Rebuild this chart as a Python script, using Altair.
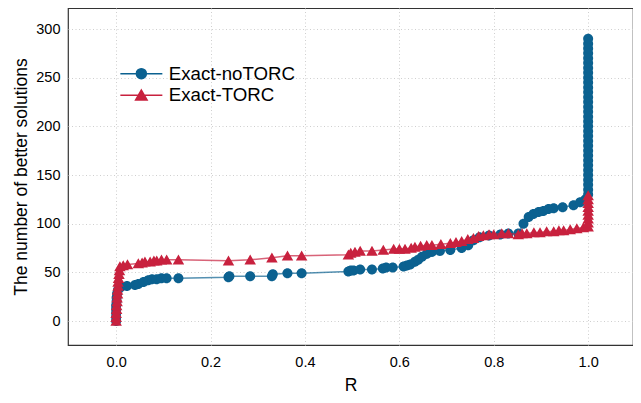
import altair as alt
import pandas as pd

series_names = ["Exact-noTORC", "Exact-TORC"]
series_colors = ["#0b6190", "#c8213e"]
x_ticks = [0.0, 0.2, 0.4, 0.6, 0.8, 1.0]
y_ticks = [0, 50, 100, 150, 200, 250, 300]

# Exact-noTORC (blue circles)
blue_r = [0.000, 0.000, 0.000, 0.000, 0.000, 0.001, 0.001, 0.002, 0.004, 0.010,
          0.023, 0.040, 0.047, 0.058, 0.068, 0.076, 0.086, 0.096, 0.107, 0.132,
          0.238, 0.240, 0.284, 0.330, 0.332, 0.363, 0.393, 0.492, 0.497, 0.503,
          0.517, 0.542, 0.565, 0.572, 0.586, 0.609, 0.616, 0.623, 0.633, 0.640,
          0.648, 0.658, 0.669, 0.686, 0.708, 0.732, 0.746, 0.757, 0.770, 0.790,
          0.814, 0.831, 0.852, 0.863, 0.874, 0.884, 0.895, 0.905, 0.916, 0.927,
          0.946, 0.969, 0.983, 0.994,
          1.0, 1.0, 1.0, 1.0, 1.0, 1.0, 1.0, 1.0, 1.0, 1.0,
          1.0, 1.0, 1.0, 1.0, 1.0, 1.0, 1.0, 1.0, 1.0, 1.0,
          1.0, 1.0, 1.0, 1.0, 1.0, 1.0, 1.0, 1.0, 1.0, 1.0,
          1.0, 1.0, 1.0]
blue_n = [0, 4, 8, 12, 16, 20, 24, 28, 32, 35,
          36, 37, 38, 40, 42, 43, 43, 44, 44, 44,
          45, 46, 46, 46, 48, 49, 49, 51, 52, 52,
          53, 53, 54, 55, 55, 56, 57, 58, 61, 63,
          66, 69, 71, 72, 73, 75, 78, 83, 86, 88,
          89, 90, 90, 100, 107, 110, 112, 113, 115, 116,
          117, 119, 122, 125,
          130, 135, 140, 145, 150, 155, 160, 165, 170, 175,
          180, 185, 190, 195, 200, 205, 210, 215, 220, 225,
          230, 235, 240, 245, 250, 255, 260, 265, 270, 275,
          280, 285, 290]

# Exact-TORC (red triangles)
red_r = [0.000, 0.000, 0.000, 0.001, 0.001, 0.002, 0.002, 0.003, 0.003, 0.004,
         0.004, 0.005, 0.006, 0.007, 0.008, 0.015, 0.024, 0.047, 0.055, 0.061,
         0.072, 0.080, 0.086, 0.096, 0.107, 0.132, 0.238, 0.284, 0.330, 0.363,
         0.393, 0.492, 0.497, 0.506, 0.517, 0.542, 0.566, 0.588, 0.600, 0.612,
         0.625, 0.633, 0.645, 0.658, 0.669, 0.688, 0.708, 0.720, 0.732, 0.745,
         0.757, 0.768, 0.778, 0.790, 0.800, 0.817, 0.831, 0.852, 0.860, 0.870,
         0.885, 0.898, 0.912, 0.927, 0.938, 0.948, 0.962, 0.976, 0.990,
         1.0, 1.0, 1.0, 1.0, 1.0, 1.0, 1.0, 1.0, 1.0]
red_n = [0, 4, 8, 12, 16, 20, 24, 28, 32, 36,
         40, 44, 48, 52, 56, 57, 58, 59, 60, 61,
         61, 62, 62, 63, 63, 63, 62, 63, 65, 67,
         67, 68, 70, 71, 72, 72, 73, 74, 74, 74,
         75, 76, 77, 78, 78, 79, 80, 81, 82, 84,
         85, 87, 88, 89, 89, 90, 90, 89, 90, 90,
         91, 91, 92, 92, 93, 93, 94, 95, 96,
         97, 101, 105, 109, 113, 117, 121, 125, 129]

rows = []
for r, n in zip(blue_r, blue_n):
    rows.append({"R": r, "N": n, "Series": series_names[0]})
for r, n in zip(red_r, red_n):
    rows.append({"R": r, "N": n, "Series": series_names[1]})
df = pd.DataFrame(rows)
df["idx"] = range(len(df))

FONT = "Liberation Sans"

# marker shapes: a filled circle / triangle plus a horizontal stroke that is only
# visible in the legend (points are drawn fill-only, legend symbols are stroked)
CIRCLE_PATH = "M-4.2,0H4.2M1,0A1,1 0 1,1 -1,0A1,1 0 1,1 1,0Z"
TRIANGLE_PATH = "M-4.2,0H4.2M0,-1.05L1.15,0.95L-1.15,0.95Z"

x_enc = alt.X("R:Q", scale=alt.Scale(domain=[-0.102, 1.095], nice=False, zero=False),
              axis=alt.Axis(values=x_ticks, format=".1f", title="R", labelPadding=10))
y_enc = alt.Y("N:Q", scale=alt.Scale(domain=[-24.6, 321.6], nice=False, zero=False),
              axis=alt.Axis(values=y_ticks, title="The number of better solutions"))

legend = alt.Legend(title=None, orient="none", legendX=64, legendY=56.3,
                    symbolSize=100, symbolStrokeWidth=1.5, symbolOpacity=1,
                    labelFontSize=18.7, labelFont=FONT, labelColor="black",
                    rowPadding=1.7, labelOffset=18)

stroke_enc = alt.Stroke("Series:N", scale=alt.Scale(domain=series_names, range=series_colors),
                        legend=legend)
fill_enc = alt.Fill("Series:N", scale=alt.Scale(domain=series_names, range=series_colors),
                    legend=legend)
shape_enc = alt.Shape("Series:N", scale=alt.Scale(domain=series_names, range=[CIRCLE_PATH, TRIANGLE_PATH]),
                      legend=legend)

base = alt.Chart(df)

layers = []
for name in series_names:
    sub = base.transform_filter(alt.datum.Series == name)
    layers.append(sub.mark_line(strokeWidth=1.5, opacity=0.7).encode(
        x=x_enc, y=y_enc, order="idx:Q", stroke=stroke_enc))
    layers.append(sub.mark_point(filled=True, opacity=1, size=100).encode(
        x=x_enc, y=y_enc, fill=fill_enc, shape=shape_enc))

chart = alt.layer(*layers).properties(
    width=565, height=337,
    autosize=alt.AutoSizeParams(type="none"),
    padding={"left": 60, "top": 0, "right": 0, "bottom": 50},
).configure_view(
    stroke="#333333", strokeWidth=1.2
).configure_axis(
    labelFont=FONT, labelFontSize=14.5, labelColor="black",
    titleFont=FONT, titleFontSize=17.5, titleFontWeight="normal", titleColor="black",
    tickSize=0, domain=False, grid=True, gridColor="#cfcfcf", gridDash=[1, 2.5],
    gridWidth=1, labelPadding=8,
).configure_axisX(titlePadding=8).configure_axisY(titlePadding=5)

chart.save("out.html", embed_options={"renderer": "svg", "actions": False})
